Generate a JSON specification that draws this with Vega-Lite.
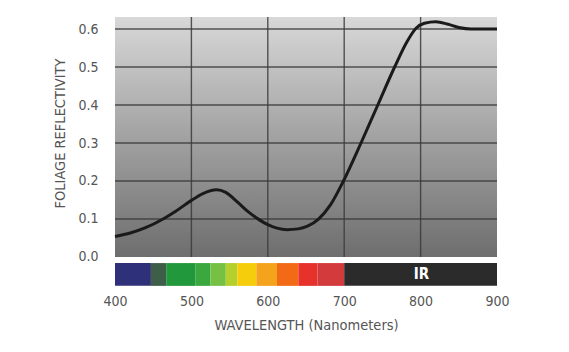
{
  "$schema": "https://vega.github.io/schema/vega-lite/v6.json",
  "width": 382,
  "height": 271,
  "autosize": {"type": "none"},
  "padding": {"left": 115, "top": 17, "right": 72, "bottom": 64},
  "background": "white",
  "config": {
    "view": {"stroke": null},
    "font": "'DejaVu Sans Condensed', 'Liberation Sans Narrow', Roboto, sans-serif",
    "axis": {"labelFont": "'DejaVu Sans Condensed', 'Liberation Sans Narrow', Roboto, sans-serif", "titleFont": "'DejaVu Sans Condensed', 'Liberation Sans Narrow', Roboto, sans-serif"}
  },
  "datasets": {
    "curve": [
      {"wavelength": 400, "reflectivity": 0.054},
      {"wavelength": 420, "reflectivity": 0.063},
      {"wavelength": 440, "reflectivity": 0.077},
      {"wavelength": 463, "reflectivity": 0.1},
      {"wavelength": 480, "reflectivity": 0.121},
      {"wavelength": 500, "reflectivity": 0.149},
      {"wavelength": 515, "reflectivity": 0.167},
      {"wavelength": 533, "reflectivity": 0.177},
      {"wavelength": 545, "reflectivity": 0.17},
      {"wavelength": 560, "reflectivity": 0.145},
      {"wavelength": 575, "reflectivity": 0.118},
      {"wavelength": 588, "reflectivity": 0.099},
      {"wavelength": 600, "reflectivity": 0.085},
      {"wavelength": 612, "reflectivity": 0.076},
      {"wavelength": 625, "reflectivity": 0.072},
      {"wavelength": 640, "reflectivity": 0.074},
      {"wavelength": 652, "reflectivity": 0.081},
      {"wavelength": 666, "reflectivity": 0.099},
      {"wavelength": 682, "reflectivity": 0.137},
      {"wavelength": 699, "reflectivity": 0.2},
      {"wavelength": 722, "reflectivity": 0.3},
      {"wavelength": 744, "reflectivity": 0.4},
      {"wavelength": 766, "reflectivity": 0.5},
      {"wavelength": 782, "reflectivity": 0.566},
      {"wavelength": 794, "reflectivity": 0.602},
      {"wavelength": 805, "reflectivity": 0.615},
      {"wavelength": 820, "reflectivity": 0.619},
      {"wavelength": 835, "reflectivity": 0.613},
      {"wavelength": 850, "reflectivity": 0.604},
      {"wavelength": 866, "reflectivity": 0.6},
      {"wavelength": 900, "reflectivity": 0.6}
    ],
    "spectrum": [
      {"band": "violet-blue", "start": 400, "end": 447},
      {"band": "blue-green", "start": 447, "end": 467},
      {"band": "green", "start": 467, "end": 505},
      {"band": "green2", "start": 505, "end": 525},
      {"band": "lightgreen", "start": 525, "end": 545},
      {"band": "yellowgreen", "start": 545, "end": 560},
      {"band": "yellow", "start": 560, "end": 585},
      {"band": "orangeyellow", "start": 585, "end": 612},
      {"band": "orange", "start": 612, "end": 640},
      {"band": "red", "start": 640, "end": 665},
      {"band": "red2", "start": 665, "end": 700},
      {"band": "IR", "start": 700, "end": 900}
    ],
    "vgrid": [{"x": 500}, {"x": 600}, {"x": 700}, {"x": 800}],
    "hgrid": [{"y": 0.1}, {"y": 0.2}, {"y": 0.3}, {"y": 0.4}, {"y": 0.5}, {"y": 0.6}]
  },
  "layer": [
    {
      "data": {"values": [{}]},
      "mark": {
        "type": "rect",
        "color": {
          "gradient": "linear", "x1": 0, "y1": 0, "x2": 0, "y2": 1,
          "stops": [
            {"offset": 0, "color": "#d8d8d8"},
            {"offset": 0.5, "color": "#a2a2a2"},
            {"offset": 1, "color": "#6e6e6e"}
          ]
        }
      },
      "encoding": {
        "x": {"datum": 400, "type": "quantitative", "scale": {"domain": [400, 900], "nice": false},
          "axis": {"values": [400, 500, 600, 700, 800, 900], "title": "WAVELENGTH (Nanometers)", "grid": false, "ticks": false, "domain": false, "labelFlush": false,
            "labelFontSize": 14, "labelColor": "#555555", "labelPadding": 6, "titleFontSize": 14.5, "titleFontWeight": "normal", "titleColor": "#555555", "titlePadding": 10}},
        "x2": {"datum": 900},
        "y": {"datum": 0, "type": "quantitative", "scale": {"domain": [-0.0816, 0.6316], "nice": false, "zero": false},
          "axis": {"values": [0, 0.1, 0.2, 0.3, 0.4, 0.5, 0.6], "format": ".1f", "title": "FOLIAGE REFLECTIVITY", "grid": false, "ticks": false, "domain": false, "labelFlush": false,
            "labelFontSize": 14, "labelColor": "#555555", "labelPadding": 17, "titleFontSize": 14.5, "titleFontWeight": "normal", "titleColor": "#555555",
            "titleX": -55, "titleY": 116, "titleBaseline": "middle", "titleAlign": "center", "titleAngle": -90}},
        "y2": {"datum": 0.6316}
      }
    },
    {
      "data": {"name": "vgrid"},
      "mark": {"type": "rule", "color": "#3a3a3a", "strokeWidth": 1.4, "opacity": 0.85},
      "encoding": {
        "x": {"field": "x", "type": "quantitative"},
        "y": {"datum": 0},
        "y2": {"datum": 0.6316}
      }
    },
    {
      "data": {"name": "hgrid"},
      "mark": {"type": "rule", "color": "#3a3a3a", "strokeWidth": 1.4, "opacity": 0.85},
      "encoding": {
        "y": {"field": "y", "type": "quantitative"},
        "x": {"datum": 400},
        "x2": {"datum": 900}
      }
    },
    {
      "data": {"name": "spectrum"},
      "mark": {"type": "rect"},
      "encoding": {
        "x": {"field": "start", "type": "quantitative"},
        "x2": {"field": "end"},
        "y": {"datum": -0.016},
        "y2": {"datum": -0.076},
        "color": {"field": "band", "type": "nominal", "legend": null,
          "scale": {
            "domain": ["violet-blue", "blue-green", "green", "green2", "lightgreen", "yellowgreen", "yellow", "orangeyellow", "orange", "red", "red2", "IR"],
            "range": ["#2e3179", "#3f5e4a", "#22983c", "#3aa83e", "#76c043", "#b5cf2c", "#f6cd0c", "#f5a21d", "#f26a15", "#e7322b", "#d33a3c", "#2b2b2b"]
          }}
      }
    },
    {
      "data": {"values": [{}]},
      "mark": {"type": "text", "text": "IR", "color": "white", "fontWeight": "bold", "fontSize": 15, "baseline": "middle", "align": "center"},
      "encoding": {
        "x": {"datum": 801},
        "y": {"datum": -0.046}
      }
    },
    {
      "data": {"name": "curve"},
      "mark": {"type": "line", "color": "#1a1a1a", "strokeWidth": 3, "interpolate": "monotone"},
      "encoding": {
        "x": {"field": "wavelength", "type": "quantitative"},
        "y": {"field": "reflectivity", "type": "quantitative"}
      }
    }
  ]
}
